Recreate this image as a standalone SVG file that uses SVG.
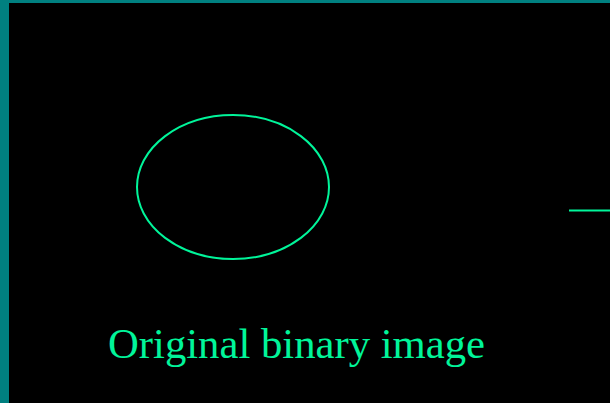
<svg xmlns="http://www.w3.org/2000/svg" width="610" height="403" viewBox="0 0 610 403">
<style>
.g{fill:none;stroke:#00f59a;stroke-width:2}
.t{font-family:"Liberation Serif","Times New Roman",serif;font-size:42.7px;fill:#00f59a}
</style>
<rect x="0" y="0" width="610" height="403" fill="#008080"/>
<rect x="9" y="3" width="601" height="400" fill="#000"/>
<g id="ellipse"><ellipse class="g" cx="233" cy="187" rx="96" ry="72"/></g>
<g id="connectors"><line class="g" x1="569" y1="210.5" x2="610" y2="210.5"/></g>
<g id="label"><text class="t" x="108" y="358">Original binary image</text></g>
</svg>
